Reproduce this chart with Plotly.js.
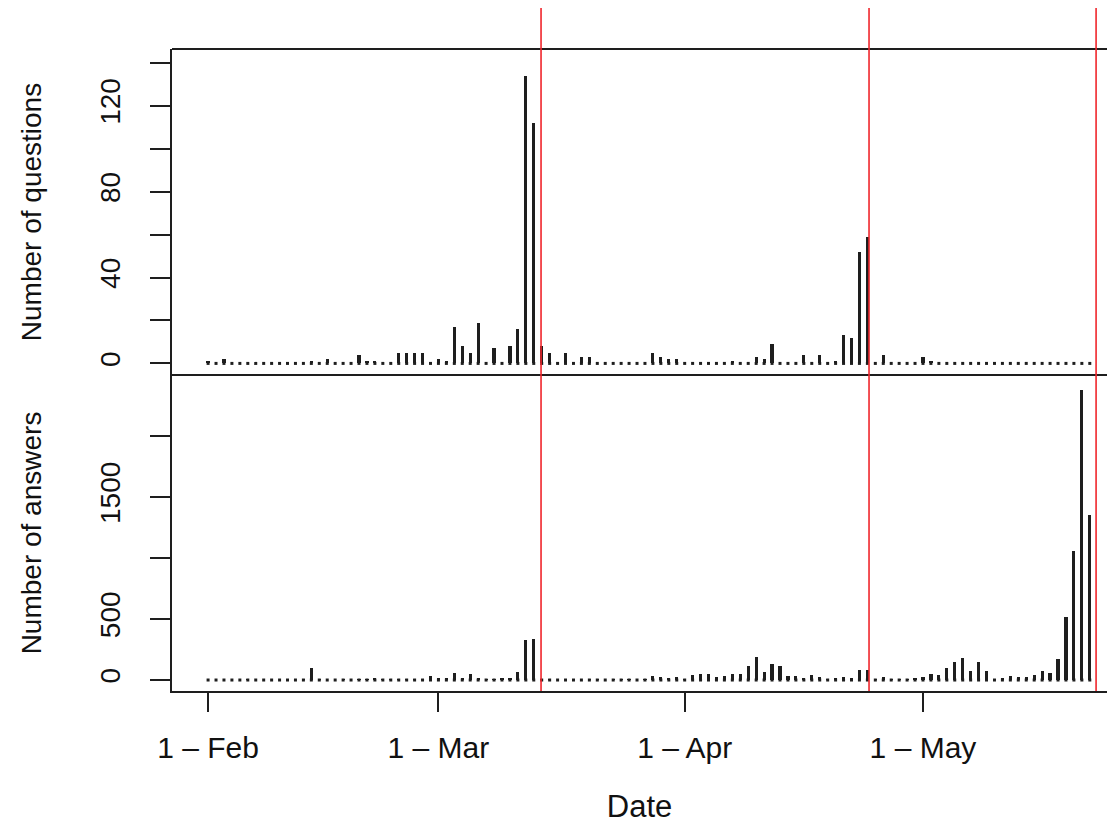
<!DOCTYPE html>
<html>
<head>
<meta charset="utf-8">
<script src="https://cdn.plot.ly/plotly-3.0.1.min.js"></script>
<style>html,body{margin:0;padding:0;background:#fff;}#chart{width:1107px;height:824px;}</style>
</head>
<body>
<div id="chart"></div>
<script>
// Daily counts starting 1 Feb 2020
const startDate = '2020-02-01';
const questions = [
  1,0,2,0,0,0,0,0,0,0,
  0,0,0,1,0,2,0,0,0,4,
  1,1,0,0,5,5,5,5,0,2,
  1,17,8,5,19,0,7,0,8,16,
  134,112,8,5,0,5,0,3,3,0,
  0,0,0,0,0,0,5,3,2,2,
  0,0,0,0,0,0,1,0,0,3,
  2,9,0,0,0,4,0,4,0,1,
  13,12,52,59,0,4,0,0,0,0,
  3,1,0,0,0,0,0,0,0,0,
  0,0,0,0,0,0,0,0,0,0,
  0,0
];
const answers = [
  3,2,4,3,2,5,3,4,2,3,
  4,3,5,100,5,4,3,5,4,6,
  5,18,6,12,12,6,10,10,35,18,
  15,55,18,50,18,10,10,20,20,65,
  330,335,8,5,4,5,6,4,5,5,
  4,5,6,5,4,5,30,25,20,25,
  6,41,47,47,25,33,47,50,115,186,
  66,134,112,37,37,14,45,27,8,14,
  25,20,80,80,5,25,5,5,6,20,
  25,49,41,96,150,178,72,145,72,12,
  14,30,27,25,45,74,60,170,520,1058,
  2375,1352
];
const tickDates = ['2020-02-01','2020-03-01','2020-04-01','2020-05-01'];
const tickLabels = ['1 \u2013 Feb','1 \u2013 Mar','1 \u2013 Apr','1 \u2013 May'];
const redLineDates = ['2020-03-13 22:00','2020-04-24 05:00','2020-05-22 19:00'];
const qTicks = [0,20,40,60,80,100,120,140];
const qTickText = ['0','','40','','80','','120',''];
const aTicks = [0,500,1000,1500,2000];
const aTickText = ['0','500','','1500',''];

// build day list
const dates = [];
const d0 = new Date(startDate + 'T00:00:00Z');
for (let i = 0; i < questions.length; i++) {
  const d = new Date(d0.getTime() + i * 86400000);
  dates.push(d.toISOString().slice(0, 10));
}
const zeros = dates.map(() => 0);

const ink = '#1e1e1e';
const barW = 0.4 * 86400000;
const fontFam = 'Liberation Sans, Arial, sans-serif';

const traces = [
  {type:'bar', x:dates, y:questions, xaxis:'x', yaxis:'y2', width:barW,
   marker:{color:ink, line:{width:0}}, hoverinfo:'skip'},
  {type:'scatter', mode:'markers', x:dates, y:zeros, xaxis:'x', yaxis:'y2',
   marker:{symbol:'square', size:3, color:ink}, hoverinfo:'skip', cliponaxis:false},
  {type:'bar', x:dates, y:answers, xaxis:'x', yaxis:'y', width:barW,
   marker:{color:ink, line:{width:0}}, hoverinfo:'skip'},
  {type:'scatter', mode:'markers', x:dates, y:zeros, xaxis:'x', yaxis:'y',
   marker:{symbol:'square', size:3, color:ink}, hoverinfo:'skip', cliponaxis:false}
];

const split = 0.4922;
const shapes = [
  {type:'line', xref:'paper', yref:'paper', x0:0, x1:1.05, y0:1, y1:1, line:{color:ink, width:2.2}},
  {type:'line', xref:'paper', yref:'paper', x0:0, x1:1.05, y0:split, y1:split, line:{color:ink, width:2.2}}
];
redLineDates.forEach(dt => shapes.push({type:'line', xref:'x', yref:'paper', x0:dt, x1:dt, y0:0, y1:1.064,
  line:{color:'#f0262c', width:1.6}}));

const yCommon = {
  showline:true, linecolor:ink, linewidth:2.2, ticks:'outside', ticklen:20, tickwidth:2, tickcolor:ink,
  showgrid:false, zeroline:false, tickangle:-90, tickmode:'array', ticklabelstandoff:19,
  tickfont:{size:28, color:'#111', family:fontFam}, fixedrange:true
};

const layout = {
  width:1107, height:824,
  margin:{l:172, r:0, t:49, b:133},
  paper_bgcolor:'#fff', plot_bgcolor:'#fff',
  showlegend:false, bargap:0,
  font:{family:fontFam, size:28, color:'#111'},
  xaxis:{type:'date', range:['2020-01-27 11:00','2020-05-24 04:00'], anchor:'y',
    showline:true, linecolor:ink, linewidth:2.2, ticks:'outside', ticklen:19, tickwidth:2, tickcolor:ink,
    tickmode:'array', tickvals:tickDates, ticktext:tickLabels, showgrid:false, zeroline:false,
    ticklabelstandoff:10, tickfont:{size:30, color:'#111', family:fontFam},
    title:{text:'Date', font:{size:31, color:'#111', family:fontFam}, standoff:37}, fixedrange:true},
  yaxis:Object.assign({}, yCommon, {domain:[0, split], range:[-90, 2500], tickvals:aTicks, ticktext:aTickText,
    title:{text:'Number of answers', font:{size:28, color:'#111', family:fontFam}, standoff:45}}),
  yaxis2:Object.assign({}, yCommon, {domain:[split, 1], range:[-5.4, 146.4], tickvals:qTicks, ticktext:qTickText,
    anchor:'x', title:{text:'Number of questions', font:{size:28, color:'#111', family:fontFam}, standoff:45}}),
  shapes:shapes
};

Plotly.newPlot('chart', traces, layout, {displayModeBar:false, staticPlot:true});
</script>
</body>
</html>
